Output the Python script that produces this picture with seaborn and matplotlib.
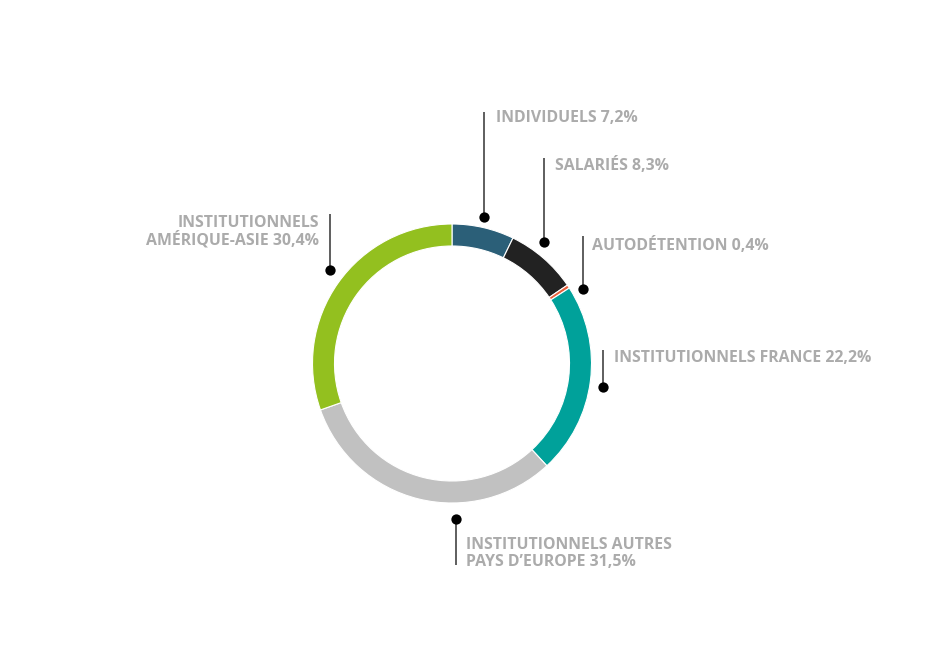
import numpy as np
import matplotlib
matplotlib.use("Agg")
import matplotlib.pyplot as plt
import seaborn as sns

# répartition de l'actionnariat
labels = ["INDIVIDUELS 7,2%",
          "SALARIÉS 8,3%",
          "AUTODÉTENTION 0,4%",
          "INSTITUTIONNELS FRANCE 22,2%",
          "INSTITUTIONNELS AUTRES\nPAYS D’EUROPE 31,5%",
          "INSTITUTIONNELS\nAMÉRIQUE-ASIE 30,4%"]
values = [7.2, 8.3, 0.4, 22.2, 31.5, 30.4]
colors = ["#2b5f78", "#222222", "#e8603c", "#00a19a", "#c1c1c1", "#93c01f"]

sns.set_theme(style="white")
plt.rcParams['font.family'] = ['Open Sans', 'DejaVu Sans']

W, H = 940, 659
fig = plt.figure(figsize=(9.4, 6.59), dpi=100)
ax = fig.add_axes([0, 0, 1, 1])

cx, cy = 452, H - 363.5
R = 139.5
ax.pie(values, colors=colors, startangle=90, counterclock=False,
       center=(cx, cy), radius=R, frame=True,
       wedgeprops=dict(width=22, edgecolor='white', linewidth=0.8))
ax.set_xlim(0, W)
ax.set_ylim(0, H)
ax.axis('off')

# annotations : angle du point, extrémité du trait (px), position du texte
dot_angle = [77.5, 52.9, 29.6, -8.8, -88.5, 142.5]
dot_r = [150, 152, 151, 153, 155.5, 153.5]
line_end = [112, 158, 236, 350, 565, 214]
text_x = [496, 555, 592, 614, 466, 319]
text_base = [122, 170, 249.5, 362, 549, 227]
halign = ['left', 'left', 'left', 'left', 'left', 'right']

for i, lab in enumerate(labels):
    a = np.deg2rad(dot_angle[i])
    dx = cx + dot_r[i] * np.cos(a)
    dy = cy + dot_r[i] * np.sin(a)
    ax.plot([dx, dx], [dy, H - line_end[i]], color='#333333', lw=1.1,
            solid_capstyle='butt', zorder=3)
    ax.scatter([dx], [dy], s=55, color='black', zorder=4, linewidths=0)
    for k, line in enumerate(lab.split("\n")):
        ax.text(text_x[i], H - (text_base[i] + 17.5 * k), line,
                ha=halign[i], va='baseline', fontsize=11.4,
                fontweight='bold', color='#ababab')

fig.savefig("out.png", dpi=100, facecolor='white')
